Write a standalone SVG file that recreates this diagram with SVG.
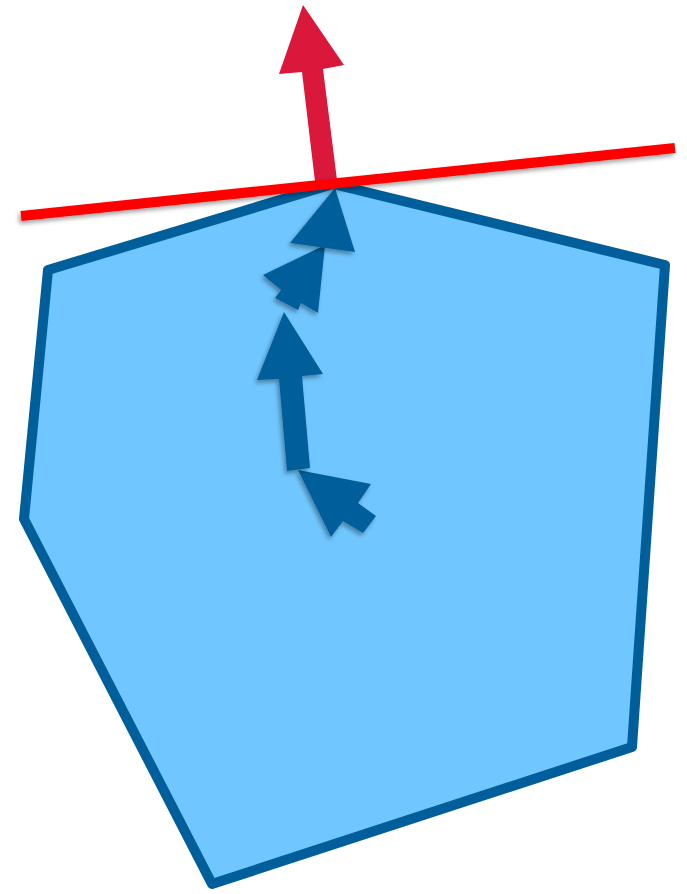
<svg xmlns="http://www.w3.org/2000/svg" width="687" height="894" viewBox="0 0 687 894">
<defs>
<filter id="sh" x="-20%" y="-20%" width="140%" height="140%">
<feDropShadow dx="-2" dy="3" stdDeviation="2" flood-color="#000" flood-opacity="0.35"/>
</filter>
<style>
.poly{fill:#70c6ff;stroke:#005f9b;stroke-width:10;stroke-linejoin:round}
.ba{fill:#005f9b;filter:url(#sh)}
.ra{fill:#d9183b}
.rl{stroke:#ff0000;stroke-width:10;fill:none;filter:url(#sh)}
</style>
</defs>
<g id="hull">
<polygon class="poly" points="333,184 665,265 632,747 212,884 24,519 48,270"/>
</g>
<g id="arrows">
<polygon class="ba" points="298,470 371,484 358,503 376,516 363,533 343,521 331,537"/>
<polygon class="ba" points="284,312 323,374 302,376 310,468 287,471 279,379 257,380"/>
<polygon class="ba" points="325,245 318,313 301,303 298,310 275,298 281,290 263,275"/>
<polygon class="ba" points="335,188 355,252 290,243"/>
<polygon class="ra" points="303,5 344,65 323,69 338,188 316,190 302,72 279,74"/>
</g>
<g id="tangent">
<line class="rl" x1="21" y1="216" x2="675" y2="148"/>
</g>
</svg>
